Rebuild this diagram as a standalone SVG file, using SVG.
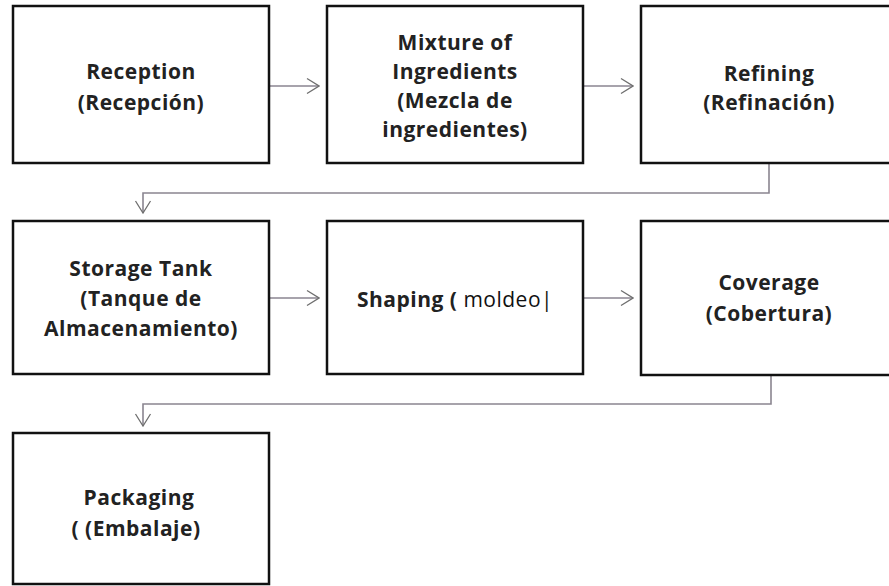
<svg xmlns="http://www.w3.org/2000/svg" width="889" height="586" viewBox="0 0 889 586">
<defs>
<marker id="arr" viewBox="0 0 14 18" refX="13" refY="9" markerWidth="14" markerHeight="18" markerUnits="userSpaceOnUse" orient="auto">
<path d="M1,1.5 L13,9 L1,16.5" fill="none" stroke="#6f6f6f" stroke-width="1.3"/>
</marker>
</defs>
<style>
.box{fill:#fff;stroke:#111;stroke-width:2.5}
.t{font-family:"Open Sans","Liberation Sans",sans-serif;font-weight:bold;font-size:21px;letter-spacing:0.5px;fill:#222;text-anchor:middle;dominant-baseline:central}
.n{font-weight:normal;fill:#111}
.c{fill:none;stroke:#8a8590;stroke-width:1.6}
</style>
<rect width="889" height="586" fill="#fff"/>
<g id="connectors">
<path class="c" d="M269,86 H319" marker-end="url(#arr)"/>
<path class="c" d="M583,86 H633" marker-end="url(#arr)"/>
<path class="c" d="M769,163 V193 H143 V213" marker-end="url(#arr)"/>
<path class="c" d="M269,298 H319" marker-end="url(#arr)"/>
<path class="c" d="M583,298 H633" marker-end="url(#arr)"/>
<path class="c" d="M771,375 V404 H143 V426" marker-end="url(#arr)"/>
</g>
<g id="reception">
<rect class="box" x="13" y="6" width="256" height="157"/>
<text class="t" x="141" y="71">Reception</text>
<text class="t" x="141" y="102">(Recepción)</text>
</g>
<g id="mixture">
<rect class="box" x="327" y="6" width="256" height="157"/>
<text class="t" x="455" y="42">Mixture of</text>
<text class="t" x="455" y="71">Ingredients</text>
<text class="t" x="455" y="100">(Mezcla de</text>
<text class="t" x="455" y="129">ingredientes)</text>
</g>
<g id="refining">
<rect class="box" x="641" y="6" width="256" height="157"/>
<text class="t" x="769" y="73">Refining</text>
<text class="t" x="769" y="102">(Refinación)</text>
</g>
<g id="storage">
<rect class="box" x="13" y="221" width="256" height="153"/>
<text class="t" x="141" y="268">Storage Tank</text>
<text class="t" x="141" y="298">(Tanque de</text>
<text class="t" x="141" y="328">Almacenamiento)</text>
</g>
<g id="shaping">
<rect class="box" x="327" y="221" width="256" height="153"/>
<text class="t" x="455" y="299">Shaping ( <tspan class="n">moldeo</tspan><tspan class="n">|</tspan></text>
</g>
<g id="coverage">
<rect class="box" x="641" y="221" width="256" height="154"/>
<text class="t" x="769" y="282">Coverage</text>
<text class="t" x="769" y="313">(Cobertura)</text>
</g>
<g id="packaging">
<rect class="box" x="13" y="433" width="256" height="151"/>
<text class="t" x="139" y="497">Packaging</text>
<text class="t" x="136" y="528">( (Embalaje)</text>
</g>
</svg>
